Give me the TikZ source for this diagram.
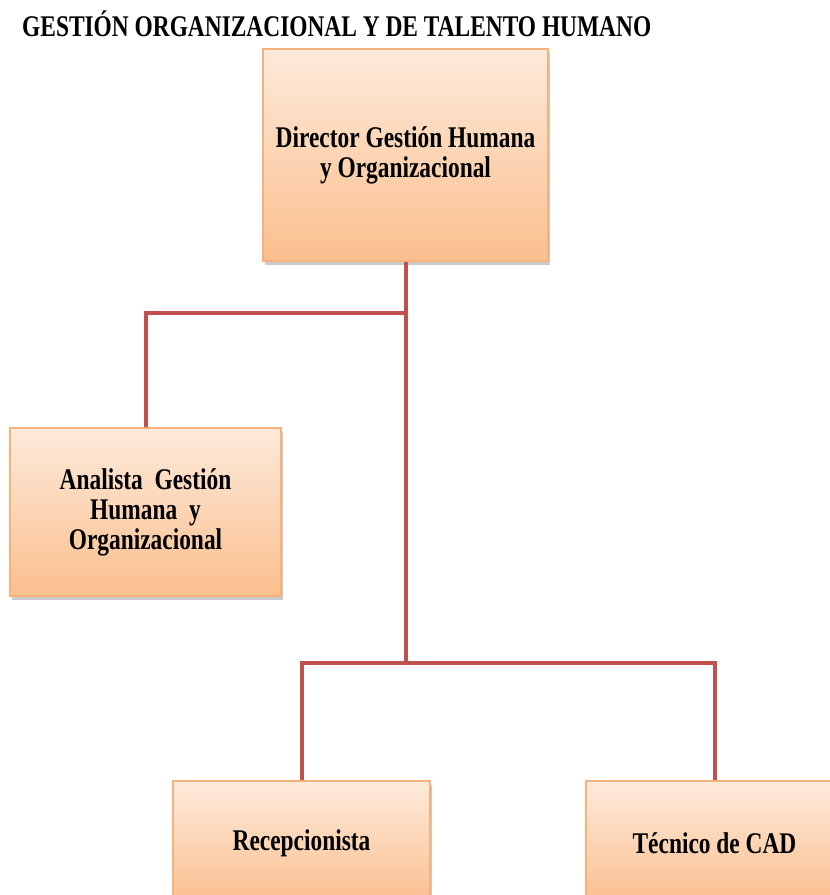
\documentclass[tikz,border=0pt]{standalone}
\usepackage{fontspec}
\setmainfont{Liberation Serif}[FakeStretch=0.78]
\usetikzlibrary{shadows,calc}
\definecolor{linkred}{RGB}{192,80,77}
\definecolor{boxtop}{RGB}{253,234,218}
\definecolor{boxbot}{RGB}{251,191,142}
\definecolor{boxedge}{RGB}{246,178,122}
\tikzset{
  role/.style={draw=boxedge, line width=1.2pt, top color=boxtop, bottom color=boxbot,
    align=center, inner sep=0pt, font=\fontsize{30}{30}\selectfont\bfseries,
    drop shadow={shadow xshift=1.5pt, shadow yshift=-4pt, opacity=0.35, fill=black!60}},
  link/.style={draw=linkred, line width=4pt}
}
\begin{document}
\begin{tikzpicture}[x=1pt,y=-1pt]
\useasboundingbox (0,0) rectangle (830,895);
% title
\node[anchor=base west, inner sep=0pt, font=\fontsize{30}{30}\selectfont\bfseries] (title) at (22,36)
  {GESTIÓN ORGANIZACIONAL Y DE TALENTO HUMANO};
% boxes
\node[role, minimum width=285pt, minimum height=212pt] (dir) at (405.5,155)
  {Director Gestión Humana\\y Organizacional};
\node[role, minimum width=271pt, minimum height=168pt] (ana) at (145.5,512)
  {Analista\ \ Gestión\\Humana\ \ y\\Organizacional};
\node[role, minimum width=257pt, minimum height=124pt] (rec) at (301.5,843)
  {Recepcionista};
\node[role, minimum width=257pt, minimum height=124pt] (tec) at (714.5,843)
  {Técnico de CAD};
% junctions
\coordinate (j1) at (405.5,313);
\coordinate (j2) at (405.5,663);
% connectors
\draw[link] (dir.south) -- (j2);
\draw[link] (j1) -| (ana.north);
\draw[link] (j2) -| (rec.north);
\draw[link] (j2) -| (tec.north);
\end{tikzpicture}
\end{document}
